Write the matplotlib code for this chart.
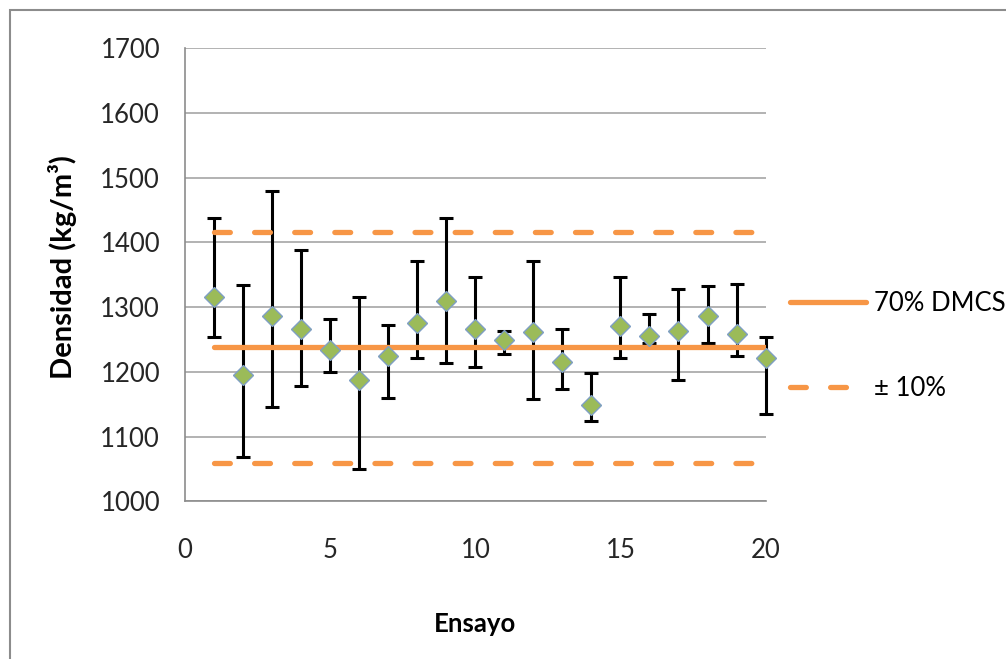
import matplotlib
matplotlib.use("Agg")
import matplotlib.pyplot as plt
from matplotlib.patches import Rectangle

# ensayo number, measured density and error bar limits (kg/m3)
ensayo = list(range(1, 21))
densidad = [1315, 1196, 1286, 1267, 1234, 1187, 1224, 1275, 1310, 1266,
            1250, 1262, 1216, 1149, 1271, 1256, 1263, 1286, 1259, 1221]
lim_sup = [1437, 1334, 1480, 1389, 1282, 1316, 1272, 1371, 1437, 1346,
           1264, 1371, 1266, 1199, 1346, 1290, 1328, 1332, 1336, 1254]
lim_inf = [1254, 1068, 1146, 1178, 1200, 1050, 1160, 1221, 1214, 1208,
           1228, 1158, 1174, 1124, 1221, 1245, 1187, 1244, 1224, 1135]

dmcs70 = 1239
banda_sup = 1416
banda_inf = 1060

naranja = "#F79646"
plt.rcParams["font.family"] = ["Lato", "DejaVu Sans"]

fig = plt.figure(figsize=(10.06, 6.59), dpi=100)
ax = fig.add_axes([0.184, 0.239, 0.577, 0.688])

# chart border
fig.patches.append(Rectangle((10 / 1006, -0.01), 1.0, 1 - 10 / 659 + 0.01,
                             transform=fig.transFigure, fill=False,
                             edgecolor="#8C8C8C", linewidth=1.5))

err_lo = [d - l for d, l in zip(densidad, lim_inf)]
err_hi = [u - d for d, u in zip(densidad, lim_sup)]
eb = ax.errorbar(ensayo, densidad, yerr=[err_lo, err_hi], fmt="none",
                 ecolor="black", elinewidth=2.2, capsize=4.8, capthick=2.2, zorder=2)
for art in eb.lines[1] + eb.lines[2]:
    art.set_clip_on(False)

ax.plot([ensayo[0], ensayo[-1]], [dmcs70, dmcs70], color=naranja, lw=3.8,
        solid_capstyle="round", zorder=3, label="70% DMCS")
ax.plot([ensayo[0], ensayo[-1]], [banda_sup, banda_sup], color=naranja, lw=3.8,
        linestyle=(0, (3.0, 4.6)), dash_capstyle="round", zorder=3, label="± 10%")
ax.plot([ensayo[0], ensayo[-1]], [banda_inf, banda_inf], color=naranja, lw=3.8,
        linestyle=(0, (3.0, 4.6)), dash_capstyle="round", zorder=3)

ax.plot(ensayo, densidad, linestyle="none", marker="D", markersize=10.5,
        markerfacecolor="#9BBB59", markeredgecolor="#7F9FC4",
        markeredgewidth=1.0, zorder=4, clip_on=False)

ax.set_xlim(0, 20)
ax.set_ylim(1000, 1700)
ax.set_xticks([0, 5, 10, 15, 20])
ax.set_yticks(range(1000, 1701, 100))
ax.yaxis.grid(True, color="#A6A6A6", linewidth=1.2)
ax.set_axisbelow(True)
for s in ("top", "right"):
    ax.spines[s].set_visible(False)
for s in ("left", "bottom"):
    ax.spines[s].set_color("#8C8C8C")
    ax.spines[s].set_linewidth(1.2)
ax.tick_params(axis="both", length=0, labelsize=18.5, colors="#262626")
ax.tick_params(axis="y", pad=18)
ax.tick_params(axis="x", pad=26)

ax.set_ylabel("Densidad (kg/m³)", fontsize=21, fontweight="bold")
ax.set_xlabel("Ensayo", fontsize=18.5, fontweight="bold")
ax.yaxis.set_label_coords(-0.186, 0.517)
ax.xaxis.set_label_coords(0.5, -0.243)

leg = ax.legend(loc="center left", bbox_to_anchor=(1.0426, 0.343), frameon=False,
                fontsize=18.5, handlelength=2.95, labelspacing=2.3,
                handletextpad=0.3, borderpad=0, borderaxespad=0)

fig.savefig("out.png", dpi=100, facecolor="white")
